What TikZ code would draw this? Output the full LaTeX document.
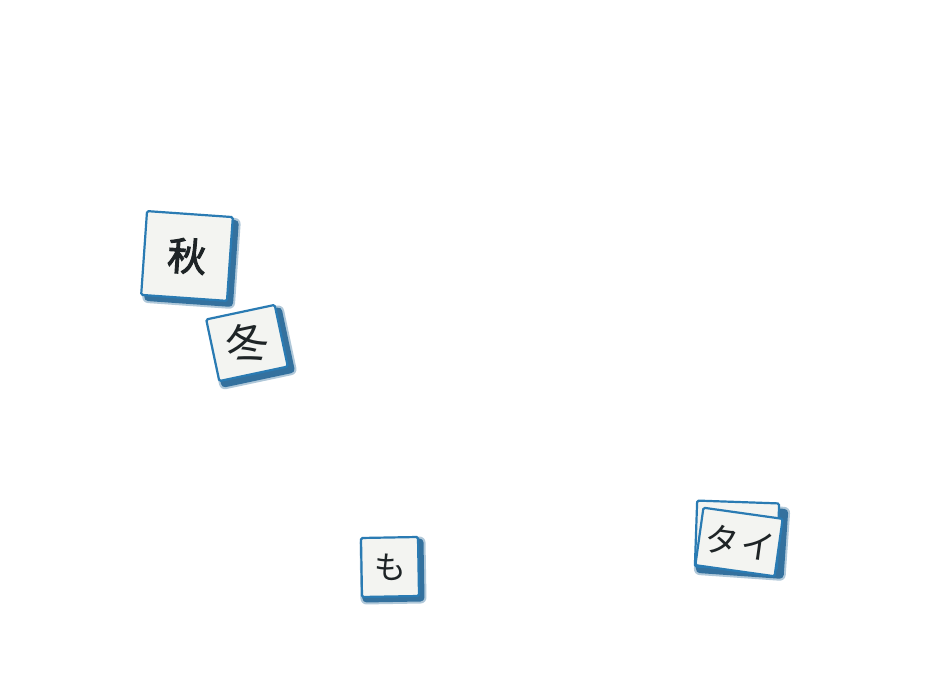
\documentclass[tikz,border=0pt]{standalone}
\usepackage{fontspec}
\newfontfamily\cjk{Noto Sans CJK JP}
\newfontfamily\cjkb[FakeBold=2.5]{Noto Sans CJK JP}
\definecolor{cardblue}{HTML}{2A7BB3}
\definecolor{shadowblue}{HTML}{1F6294}
\definecolor{paper}{HTML}{F3F4F1}
\definecolor{ink}{HTML}{1E2426}
\tikzset{
  card/.style={draw=cardblue, line width=2.2pt, fill=paper, rounded corners=1.5pt, inner sep=0pt, text=ink},
  shadowfill/.style={fill=shadowblue, rounded corners=4pt, opacity=0.85},
  softfill/.style={fill=shadowblue, rounded corners=6pt, opacity=0.35},
  backcard/.style={draw=cardblue, line width=2.2pt, fill=paper, rounded corners=1.5pt},
  glyph/.style={inner sep=0pt, text=ink, font=\cjk\fontsize{34}{34}\selectfont},
}
\begin{document}
\begin{tikzpicture}[x=1pt,y=1pt]
\useasboundingbox (0,0) rectangle (932,684);
\fill[white] (0,0) rectangle (932,684);
% shadows
\begin{scope}[shift={(191,424)}, rotate=-4]
  \fill[softfill] (-46,-46) rectangle (47,45);
  \fill[shadowfill] (-44,-44) rectangle (45,43);
\end{scope}
\begin{scope}[shift={(251,337)}, rotate=12]
  \fill[softfill] (-39,-36) rectangle (40,35);
  \fill[shadowfill] (-37,-34) rectangle (38,33);
\end{scope}
\begin{scope}[shift={(393,114)}, rotate=1]
  \fill[softfill] (-33,-34) rectangle (33,33);
  \fill[shadowfill] (-31,-32) rectangle (31,31);
\end{scope}
\begin{scope}[shift={(742,143)}, rotate=-4]
  \fill[softfill] (-46,-37) rectangle (46,37);
  \fill[shadowfill] (-44,-35) rectangle (44,35);
\end{scope}
\begin{scope}[shift={(737,149)}, rotate=-2]
  \draw[backcard] (-41,-33) rectangle (41,33);
\end{scope}
% cards
\node[card, rotate=-4, minimum width=86pt, minimum height=84pt, font=\cjkb\fontsize{39}{39}\selectfont] (aki) at (187,428) {秋};
\node[card, rotate=12, minimum width=70pt, minimum height=63pt, font=\cjk\fontsize{43}{43}\selectfont] (fuyu) at (247,341) {冬};
\node[card, rotate=1, minimum width=57pt, minimum height=59pt, font=\cjk\fontsize{32}{32}\selectfont] (mo) at (390,117) {も};
\node[card, rotate=-8, minimum width=80pt, minimum height=58pt] (tai) at (739,142) {};
\node[glyph, rotate=-8] (ta) at (722,144) {タ};
\node[glyph, rotate=-8] (i) at (758,138) {イ};
\end{tikzpicture}
\end{document}
